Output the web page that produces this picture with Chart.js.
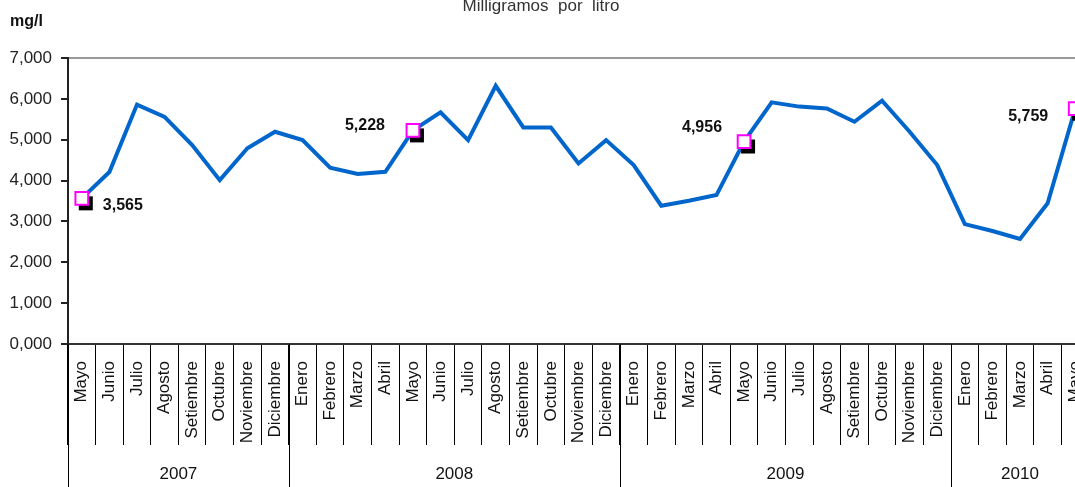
<!DOCTYPE html>
<html>
<head>
<meta charset="utf-8">
<script src="https://cdn.jsdelivr.net/npm/chart.js@4"></script>
<style>
  html, body { margin: 0; padding: 0; background: #fff; overflow: hidden; }
  canvas { display: block; }
</style>
</head>
<body>
<canvas id="chart" width="1100" height="487"></canvas>
<script>
// Month categories, Mayo 2007 .. Mayo 2010
const months = [
  "Mayo", "Junio", "Julio", "Agosto", "Setiembre", "Octubre", "Noviembre", "Diciembre",
  "Enero", "Febrero", "Marzo", "Abril", "Mayo", "Junio", "Julio", "Agosto", "Setiembre", "Octubre", "Noviembre", "Diciembre",
  "Enero", "Febrero", "Marzo", "Abril", "Mayo", "Junio", "Julio", "Agosto", "Setiembre", "Octubre", "Noviembre", "Diciembre",
  "Enero", "Febrero", "Marzo", "Abril", "Mayo"
];
const years = ["2007", "2008", "2009", "2010"];
const yearSpans = [8, 12, 12, 5]; // months per year group

// mg/l (thousands, shown with comma decimal)
const values = [
  3.565, 4.210, 5.860, 5.560, 4.870, 4.010, 4.790, 5.195,
  4.990, 4.315, 4.160, 4.215, 5.228, 5.670, 4.990, 6.320, 5.300, 5.300, 4.420, 4.990,
  4.380, 3.385, 3.505, 3.645, 4.956, 5.915, 5.810, 5.765, 5.440, 5.955, 5.195, 4.380,
  2.935, 2.765, 2.570, 3.445, 5.759
];
const markedIdx = [0, 12, 24, 36]; // the Mayo points that get a label
const yTicks = [0, 1, 2, 3, 4, 5, 6, 7];

const fmt = v => v.toFixed(3).replace(".", ",");
const markers = values.map((v, i) => markedIdx.includes(i) ? v : null);

// where each value label sits relative to its marker
const labelPos = [
  { dx: 21, dy: 7, align: "left" },
  { dx: -28, dy: -5, align: "right" },
  { dx: -22, dy: -14, align: "right" },
  { dx: -27, dy: 8, align: "right" }
];

const decor = {
  id: "decor",
  beforeDatasetDraw(chart, args) {
    if (args.index !== 0) return;
    const ctx = chart.ctx;
    ctx.save();
    ctx.fillStyle = "#000";
    args.meta.data.forEach((pt, i) => {
      if (markers[i] == null) return;
      ctx.fillRect(pt.x - 3, pt.y - 2, 14, 14);
    });
    ctx.restore();
  },
  afterDatasetsDraw(chart) {
    const ctx = chart.ctx;
    const meta = chart.getDatasetMeta(0);
    ctx.save();
    ctx.font = "bold 16px 'Liberation Sans', Arial, sans-serif";
    ctx.fillStyle = "#111";
    ctx.textBaseline = "middle";
    markedIdx.forEach((idx, k) => {
      const pt = meta.data[idx];
      const p = labelPos[k];
      ctx.textAlign = p.align;
      ctx.fillText(fmt(values[idx]), pt.x + p.dx, pt.y + p.dy);
    });
    ctx.restore();
  },
  afterDraw(chart) {
    const ctx = chart.ctx;
    const x = chart.scales.x;
    const area = chart.chartArea;
    const half = (x.getPixelForValue(1) - x.getPixelForValue(0)) / 2;
    ctx.save();
    // year row
    ctx.strokeStyle = "#000";
    ctx.lineWidth = 1;
    ctx.font = "17px 'Liberation Sans', Arial, sans-serif";
    ctx.fillStyle = "#111";
    ctx.textAlign = "center";
    ctx.textBaseline = "middle";
    let start = 0;
    years.forEach((yr, k) => {
      const end = start + yearSpans[k] - 1;
      const x0 = x.getPixelForValue(start) - half;
      const x1 = x.getPixelForValue(end) + half;
      [x0, x1].forEach(px => {
        ctx.beginPath();
        ctx.moveTo(Math.round(px) + 0.5, area.bottom);
        ctx.lineTo(Math.round(px) + 0.5, chart.height);
        ctx.stroke();
      });
      ctx.fillText(yr, (x0 + x1) / 2, 474);
      start = end + 1;
    });
    // titles
    ctx.fillStyle = "#333";
    ctx.textBaseline = "alphabetic";
    ctx.fillText("Milligramos  por  litro", 541, 11);
    ctx.textAlign = "left";
    ctx.fillStyle = "#111";
    ctx.font = "bold 16px 'Liberation Sans', Arial, sans-serif";
    ctx.fillText("mg/l", 10, 26);
    ctx.restore();
  }
};

new Chart(document.getElementById("chart"), {
  type: "line",
  data: {
    labels: months,
    datasets: [
      {
        data: markers,
        showLine: false,
        pointStyle: "rect",
        pointRadius: 9,
        pointBackgroundColor: "#fff",
        pointBorderColor: "#ff00ff",
        pointBorderWidth: 2
      },
      {
        data: values,
        borderColor: "#0066cc",
        borderWidth: 4,
        pointRadius: 0,
        tension: 0,
        fill: false
      }
    ]
  },
  options: {
    responsive: false,
    animation: false,
    layout: { padding: { top: 58, left: 0, right: 11, bottom: 0 } },
    plugins: { legend: { display: false }, tooltip: { enabled: false } },
    scales: {
      x: {
        offset: true,
        afterFit: s => { s.height = 143; },
        grid: {
          offset: true,
          drawOnChartArea: false,
          tickLength: 101,
          tickColor: "#000",
          lineWidth: 1
        },
        border: { color: "#333", width: 2 },
        ticks: {
          autoSkip: false,
          minRotation: 90,
          maxRotation: 90,
          padding: -84,
          color: "#111",
          font: { family: "'Liberation Sans', Arial, sans-serif", size: 17 }
        }
      },
      y: {
        min: 0,
        max: 7,
        afterFit: s => { s.width = 68; },
        afterBuildTicks: s => { s.ticks = yTicks.map(v => ({ value: v })); },
        grid: {
          drawOnChartArea: true,
          color: c => (c.tick && c.tick.value === 7) ? "#999" : "rgba(0,0,0,0)",
          lineWidth: 2,
          tickColor: "#222",
          tickLength: 7
        },
        border: { color: "#222", width: 2 },
        ticks: {
          padding: 9,
          color: "#222",
          font: { family: "'Liberation Sans', Arial, sans-serif", size: 17 },
          callback: v => fmt(v)
        }
      }
    }
  },
  plugins: [decor]
});
</script>
</body>
</html>
